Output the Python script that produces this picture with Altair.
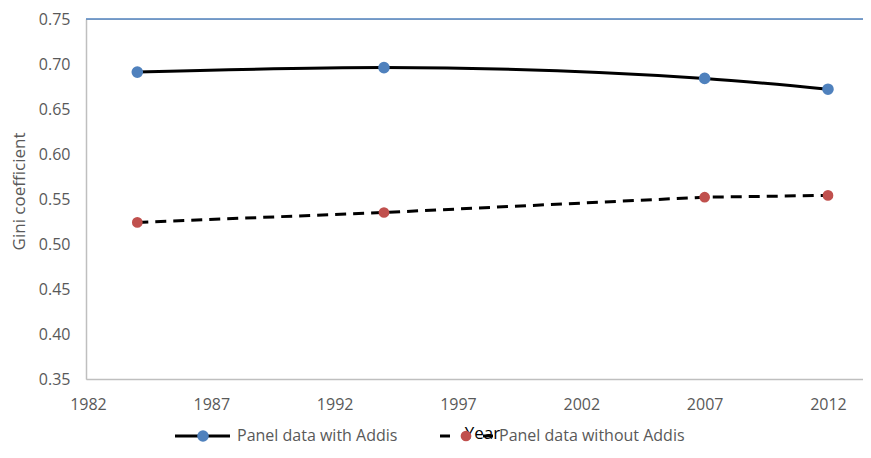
import altair as alt
import pandas as pd

years = [1984, 1994, 2007, 2012]
with_addis = [0.691, 0.696, 0.684, 0.672]
without_addis = [0.524, 0.535, 0.552, 0.554]
series_names = ["Panel data with Addis", "Panel data without Addis"]
x_ticks = [1982, 1987, 1992, 1997, 2002, 2007, 2012]
y_ticks = [0.35, 0.40, 0.45, 0.50, 0.55, 0.60, 0.65, 0.70, 0.75]

BLUE = "#4f81bd"
RED = "#c0504d"
GRAY = "#595959"
FONT = "Open Sans"

W, H = 777, 360

df = pd.DataFrame({
    "year": years * 2,
    "gini": with_addis + without_addis,
    "series": [series_names[0]] * 4 + [series_names[1]] * 4,
})

xs = alt.Scale(domain=[1981.92, 2013.42], nice=False, zero=False)
ys = alt.Scale(domain=[0.35, 0.75], nice=False, zero=False)

x_enc = alt.X("year:Q", scale=xs, axis=alt.Axis(
    values=x_ticks, format="d", title="Year", grid=False, ticks=False,
    domainColor="#bfbfbf", domainWidth=1.5, labelColor=GRAY, labelFont=FONT,
    labelFontSize=16, labelPadding=17, titleFont=FONT, titleFontSize=17,
    titleFontWeight="normal", titleColor="#000000", titleX=396, titleY=59,
    titleBaseline="alphabetic", labelFlush=False))
y_enc = alt.Y("gini:Q", scale=ys, axis=alt.Axis(
    values=y_ticks, format=".2f", title="Gini coefficient", grid=False,
    ticks=False, domainColor="#bfbfbf", domainWidth=1.5, labelColor=GRAY,
    labelFont=FONT, labelFontSize=16, labelPadding=16, titleFont=FONT,
    titleFontSize=17, titleFontWeight="normal", titleColor=GRAY,
    titleX=-62, titleY=172, titleAlign="center", titleBaseline="alphabetic",
    titleAngle=-90))

base = alt.Chart(df)

line_with = base.transform_filter(alt.datum.series == series_names[0]).mark_line(
    color="black", strokeWidth=3, interpolate="monotone").encode(x=x_enc, y=y_enc)
line_without = base.transform_filter(alt.datum.series == series_names[1]).mark_line(
    color="black", strokeWidth=3, strokeDash=[11, 7]).encode(x=x_enc, y=y_enc)

pts_with = base.transform_filter(alt.datum.series == series_names[0]).mark_circle(
    color=BLUE, size=135, opacity=1).encode(x=x_enc, y=y_enc)
pts_without = base.transform_filter(alt.datum.series == series_names[1]).mark_circle(
    color=RED, size=115, opacity=1).encode(x=x_enc, y=y_enc)

top_border = alt.Chart(pd.DataFrame({"a": [0]})).mark_rule(
    color=BLUE, strokeWidth=1.5).encode(x=alt.value(0), x2=alt.value(W), y=alt.value(0))

leg_df = pd.DataFrame({"name": series_names})
LY = 417
leg1_line = alt.Chart(leg_df).transform_filter(alt.datum.name == series_names[0]).mark_rule(
    color="black", strokeWidth=3, clip=False).encode(x=alt.value(89), x2=alt.value(144), y=alt.value(LY))
leg1_pt = alt.Chart(leg_df).transform_filter(alt.datum.name == series_names[0]).mark_circle(
    color=BLUE, size=135, opacity=1, clip=False).encode(x=alt.value(117), y=alt.value(LY))
leg1_txt = alt.Chart(leg_df).transform_filter(alt.datum.name == series_names[0]).mark_text(
    align="left", baseline="middle", font=FONT, fontSize=16, color=GRAY, clip=False).encode(
    x=alt.value(151), y=alt.value(LY), text="name:N")

leg2_dash_a = alt.Chart(leg_df).transform_filter(alt.datum.name == series_names[1]).mark_rule(
    color="black", strokeWidth=3, clip=False).encode(
    x=alt.value(354), x2=alt.value(364), y=alt.value(LY))
leg2_dash_b = alt.Chart(leg_df).transform_filter(alt.datum.name == series_names[1]).mark_rule(
    color="black", strokeWidth=3, clip=False).encode(
    x=alt.value(397), x2=alt.value(407), y=alt.value(LY))
leg2_pt = alt.Chart(leg_df).transform_filter(alt.datum.name == series_names[1]).mark_circle(
    color=RED, size=115, opacity=1, clip=False).encode(x=alt.value(380), y=alt.value(LY))
leg2_txt = alt.Chart(leg_df).transform_filter(alt.datum.name == series_names[1]).mark_text(
    align="left", baseline="middle", font=FONT, fontSize=16, color=GRAY, clip=False).encode(
    x=alt.value(413), y=alt.value(LY), text="name:N")

chart = alt.layer(
    line_with, line_without, pts_with, pts_without, top_border,
    leg1_line, leg1_pt, leg1_txt, leg2_dash_a, leg2_dash_b, leg2_pt, leg2_txt
).properties(
    width=W, height=H,
    autosize=alt.AutoSizeParams(type="none"),
    padding={"left": 78, "top": 11, "right": 0, "bottom": 69},
    background="white",
).configure_view(stroke="#d9d9d9", strokeWidth=1)

chart.save("out.html", embed_options={"renderer": "svg", "actions": False})
